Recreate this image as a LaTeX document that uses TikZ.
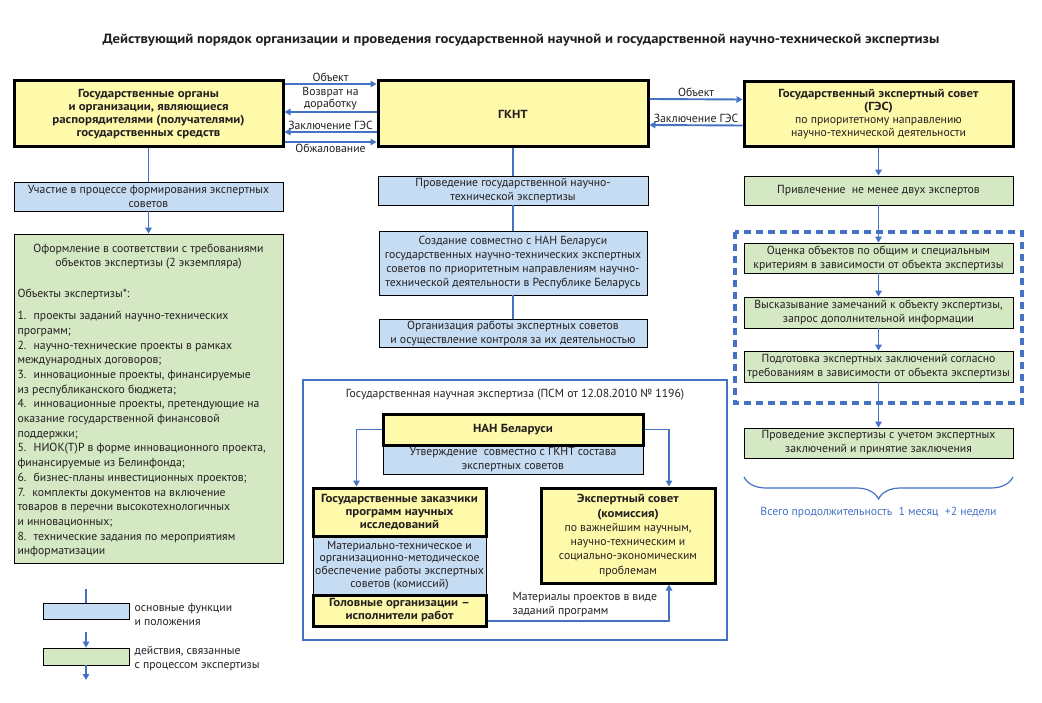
\documentclass[tikz,border=0pt]{standalone}
\usepackage{fontspec}
\setmainfont{PT Sans}[BoldFeatures={FakeStretch=1.1}]
\usetikzlibrary{arrows.meta,decorations.pathreplacing}

\definecolor{boxyellow}{HTML}{FFF9AA}
\definecolor{boxblue}{HTML}{C6DCF2}
\definecolor{boxgreen}{HTML}{D4E8C4}
\definecolor{lineblue}{HTML}{4472C4}
\definecolor{txt}{HTML}{231F20}

\tikzset{
  mainbox/.style={draw=black, line width=3pt, fill=boxyellow, align=center, inner sep=1pt},
  funcbox/.style={draw=black, line width=0.8pt, fill=boxblue, align=center, inner sep=1pt},
  actbox/.style={draw=black, line width=0.8pt, fill=boxgreen, align=center, inner sep=1pt},
  flow/.style={draw=lineblue, line width=1.9pt},
  flowarrow/.style={flow, -{Triangle[length=6pt,width=6.5pt]}},
  lbl/.style={inner sep=1.5pt, text=txt},
}

\begin{document}
\begin{tikzpicture}[x=1pt, y=-1pt, font=\fontsize{11.7}{14}\selectfont, text=txt]
        \useasboundingbox (0,0) rectangle (1042,703);

        % Title
        \node (title) at (521,40) {\fontsize{13.4}{15}\selectfont\bfseries Действующий порядок организации и проведения государственной научной и государственной научно-технической экспертизы};

        % Nodes
        \node (org) [mainbox, minimum width=269pt, minimum height=66pt, font=\fontsize{11.7}{13}\selectfont\bfseries] at (148.5,114) {Государственные органы\\и организации, являющиеся\\распорядителями (получателями)\\государственных средств};
        \node (gknt) [mainbox, minimum width=270pt, minimum height=66pt, font=\fontsize{11.7}{13}\selectfont\bfseries] at (513,114) {ГКНТ};
        \node (ges) [mainbox, minimum width=269pt, minimum height=65pt, font=\fontsize{11.7}{13}\selectfont] at (878.5,114.5) {\textbf{Государственный экспертный совет}\\\textbf{(ГЭС)}\\по приоритетному направлению\\научно-технической деятельности};

        \node (uch) [funcbox, minimum width=269pt, minimum height=29pt] at (148.5,196.5) {Участие в процессе формирования экспертных\\советов};
        \node (oform) [actbox, minimum width=269pt, minimum height=329pt] at (148.5,398.5) {\begin{minipage}{262pt}\fontsize{11.7}{14.7}\selectfont
            \vspace*{4pt}\centering Оформление в соответствии с требованиями\\[-0.7pt]объектов экспертизы (2 экземпляра)\par
            \vspace{17pt}\raggedright Объекты экспертизы*:\par
            \vspace{7pt}1.~ проекты заданий научно-технических\\программ;\\
            2.~ научно-технические проекты в рамках\\международных договоров;\\
            3.~ инновационные проекты, финансируемые\\из республиканского бюджета;\\
            4.~ инновационные проекты, претендующие на\\оказание государственной финансовой\\поддержки;\\
            5.~ НИОК(Т)Р в форме инновационного проекта,\\финансируемые из Белинфонда;\\
            6.~ бизнес-планы инвестиционных проектов;\\
            7.~ комплекты документов на включение\\товаров в перечни высокотехнологичных\\и инновационных;\\
            8.~ технические задания по мероприятиям\\информатизации\par
          \end{minipage}};

        \node (prov) [funcbox, minimum width=270pt, minimum height=29pt] at (513,190.5) {Проведение государственной научно-\\технической экспертизы};
        \node (sozd) [funcbox, minimum width=268pt, minimum height=64pt] at (513,263) {Создание совместно с НАН Беларуси\\государственных научно-технических экспертных\\советов по приоритетным направлениям научно-\\технической деятельности в Республике Беларусь};
        \node (orgr) [funcbox, minimum width=268pt, minimum height=28pt] at (513,333) {Организация работы экспертных советов\\и осуществление контроля за их деятельностью};

        \node (privl) [actbox, minimum width=269pt, minimum height=29pt] at (878.5,190.5) {Привлечение~ не менее двух экспертов};
        \draw[lineblue, line width=3.5pt, dash pattern=on 7pt off 5pt] (735,232) rectangle (1022,403);
        \node (ocen) [actbox, minimum width=269pt, minimum height=30pt] at (878.5,258) {Оценка объектов по общим и специальным\\критериям в зависимости от объекта экспертизы};
        \node (vysk) [actbox, minimum width=269pt, minimum height=31pt] at (878.5,312.5) {Высказывание замечаний к объекту экспертизы,\\запрос дополнительной информации};
        \node (podg) [actbox, minimum width=269pt, minimum height=31pt] at (878.5,366.5) {Подготовка экспертных заключений согласно\\требованиям в зависимости от объекта экспертизы};
        \node (provexp) [actbox, minimum width=269pt, minimum height=30pt] at (878.5,443) {Проведение экспертизы с учетом экспертных\\заключений и принятие заключения};

        \coordinate (brr) at (1013,477);
        \coordinate (brl) at (744,477);
        \draw[lineblue, line width=1.2pt, decorate, decoration={brace, amplitude=22pt}] (brr) -- (brl);
        \node (total) [text=lineblue] at (878.5,513) {Всего продолжительность~ 1 месяц~ +2 недели};

        % State scientific expertise
        \draw[lineblue, line width=2pt] (303,380) rectangle (727,640);
        \node (psm) at (515,395) {Государственная научная экспертиза (ПСМ от 12.08.2010 № 1196)};
        \node (utv) [funcbox, minimum width=260pt, minimum height=29pt] at (513,459.5) {Утверждение~ совместно с ГКНТ состава\\экспертных советов};
        \node (nan) [mainbox, minimum width=260pt, minimum height=31pt] at (513,429.5) {\textbf{НАН Беларуси}};
        \node (mat) [funcbox, minimum width=173pt, minimum height=59pt, font=\fontsize{11.7}{12.8}\selectfont] at (399.5,565.5) {Материально-техническое и\\организационно-методическое\\обеспечение работы экспертных\\советов (комиссий)};
        \node (zak) [mainbox, minimum width=173pt, minimum height=48pt, font=\fontsize{11.7}{13.3}\selectfont\bfseries] at (399.5,512) {Государственные заказчики\\программ научных\\исследований};
        \node (gol) [mainbox, minimum width=173pt, minimum height=31pt, font=\fontsize{11.7}{13}\selectfont\bfseries] at (399.5,610.5) {Головные организации –\\исполнители работ};
        \node (eks) [mainbox, minimum width=174pt, minimum height=95pt, font=\fontsize{11.7}{14.3}\selectfont] at (628,535.5) {\textbf{Экспертный совет}\\\textbf{(комиссия)}\\по важнейшим научным,\\научно-техническим и\\социально-экономическим\\проблемам};
        \node (mater) [lbl, anchor=west, align=left] at (511,605) {Материалы проектов в виде\\заданий программ};

        % Legend
        \coordinate (lg0) at (86,589);
        \node (lblue) [funcbox, minimum width=86pt, minimum height=16pt] at (86,611) {};
        \coordinate (lg1) at (86,632);
        \node (lgreen) [actbox, minimum width=86pt, minimum height=17pt] at (86,656.5) {};
        \coordinate (lg2) at (86,680);
        \node (lbtxt) [lbl, anchor=west, align=left] at (133,614) {основные функции\\и положения};
        \node (lgtxt) [lbl, anchor=west, align=left] at (133,659) {действия, связанные\\с процессом экспертизы};

        % Edges
        \draw[flowarrow] ([yshift=30pt]org.east) -- node[lbl, above] {Объект} ([yshift=30pt]gknt.west);
        \draw[flowarrow] ([yshift=2pt]gknt.west) -- node[lbl, above, align=center, font=\fontsize{11.7}{9}\selectfont] {Возврат на\\доработку} ([yshift=2pt]org.east);
        \draw[flowarrow] ([yshift=-18pt]gknt.west) -- node[lbl, above] {Заключение ГЭС} ([yshift=-18pt]org.east);
        \draw[flowarrow] ([yshift=-28pt]org.east) -- node[lbl, below] {Обжалование} ([yshift=-28pt]gknt.west);
        \draw[flowarrow] ([yshift=15pt]gknt.east) -- node[lbl, above] {Объект} ([yshift=15pt]ges.west);
        \draw[flowarrow] ([yshift=-11pt]ges.west) -- node[lbl, above] {Заключение ГЭС} ([yshift=-11pt]gknt.east);

        \draw[flow] (org) -- (uch);
        \draw[flowarrow] (uch) -- (oform);
        \draw[flow] (gknt) -- (prov);
        \draw[flow] (prov) -- (sozd);
        \draw[flow] (sozd) -- (orgr);
        \draw[flowarrow] (ges) -- (privl);
        \draw[flowarrow] (privl) -- (ocen);
        \draw[flowarrow] (ocen) -- (vysk);
        \draw[flowarrow] (vysk) -- (podg);
        \draw[flowarrow] (podg) -- (provexp);

        \draw[flowarrow] (nan.west) -| ([xshift=-43pt]zak.north);
        \draw[flowarrow] (nan.east) -| ([xshift=41pt]eks.north);
        \draw[flowarrow, line width=1.4pt] ([yshift=-10.5pt]gol.east) -| ([xshift=41pt]eks.south);

        \draw[flow] (lg0) -- (lblue);
        \draw[flowarrow] (lg1) -- (lgreen);
        \draw[flowarrow] (lgreen) -- (lg2);
    \end{tikzpicture}
\end{document}
